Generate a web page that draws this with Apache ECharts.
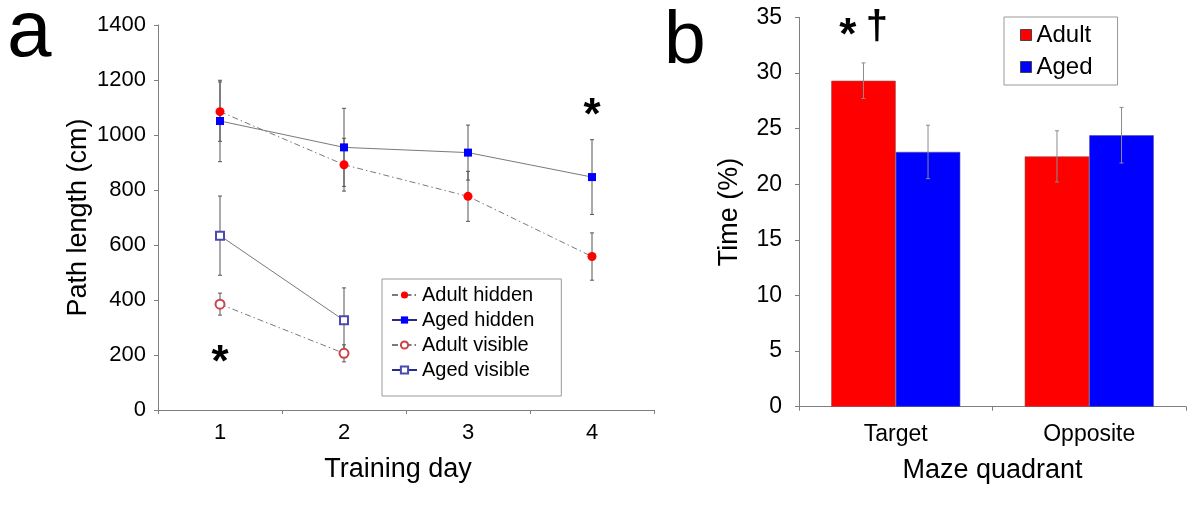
<!DOCTYPE html>
<html>
<head>
<meta charset="utf-8">
<script src="https://cdn.jsdelivr.net/npm/echarts@6/dist/echarts.min.js"></script>
<style>
html,body{margin:0;padding:0;background:#fff;}
#c{width:1200px;height:518px;}
</style>
</head>
<body>
<div id="c"></div>
<script>
// ---- Panel a data ----
const days = ['1', '2', '3', '4'];
const pathTicks = [0, 200, 400, 600, 800, 1000, 1200, 1400];
const adultHidden = [1085, 892, 777, 558];
const adultHiddenErr = [108, 96, 91, 86];
const agedHidden = [1051, 955, 936, 847];
const agedHiddenErr = [148, 142, 100, 136];
const adultVisible = [385, 206];
const adultVisibleErr = [40, 31];
const agedVisible = [634, 326];
const agedVisibleErr = [144, 118];
const starsA = [[0, 200], [3, 1100]];

// ---- Panel b data ----
const quadrants = ['Target', 'Opposite'];
const timeTicks = [0, 5, 10, 15, 20, 25, 30, 35];
const adultTime = [29.3, 22.5];
const adultTimeErr = [1.6, 2.3];
const agedTime = [22.9, 24.4];
const agedTimeErr = [2.4, 2.5];
const marksB = [[0, 34]];

const FONT = 'Liberation Sans, Arial, sans-serif';
const AXIS_GRAY = '#7f7f7f';
const LINE_GRAY = '#7a7a7a';

function errData(vals, errs) {
  return vals.map((v, i) => [i, v, errs[i]]);
}

function lineErrRender(params, api) {
  const x = api.value(0), v = api.value(1), e = api.value(2);
  const top = api.coord([x, v + e]);
  const bot = api.coord([x, v - e]);
  const c = 2;
  const st = {stroke: '#555', lineWidth: 1};
  return {type: 'group', children: [
    {type: 'line', shape: {x1: top[0], y1: top[1], x2: bot[0], y2: bot[1]}, style: st},
    {type: 'line', shape: {x1: top[0] - c, y1: top[1], x2: top[0] + c, y2: top[1]}, style: st},
    {type: 'line', shape: {x1: bot[0] - c, y1: bot[1], x2: bot[0] + c, y2: bot[1]}, style: st}
  ]};
}

function barErrRender(side) {
  return function (params, api) {
    const x = api.value(0), v = api.value(1), e = api.value(2);
    const band = api.size([1, 0])[0];
    const bw = band * (1 - 0.333) / 2;
    const off = side * bw / 2;
    const top = api.coord([x, v + e]);
    const bot = api.coord([x, v - e]);
    const px = top[0] + off;
    const c = 2;
    const st = {stroke: '#8c8c8c', lineWidth: 1};
    return {type: 'group', children: [
      {type: 'line', shape: {x1: px, y1: top[1], x2: px, y2: bot[1]}, style: st},
      {type: 'line', shape: {x1: px - c, y1: top[1], x2: px + c, y2: top[1]}, style: st},
      {type: 'line', shape: {x1: px - c, y1: bot[1], x2: px + c, y2: bot[1]}, style: st}
    ]};
  };
}

// text annotations drawn at data coordinates through the axes
function textMarkRender(txt, font, dx, dy) {
  return function (params, api) {
    const p = api.coord([api.value(0), api.value(1)]);
    return {
      type: 'text',
      x: p[0] + dx, y: p[1] + dy,
      style: {text: txt, font: font + ' ' + FONT, fill: '#000', align: 'center', verticalAlign: 'middle'}
    };
  };
}

const chart = echarts.init(document.getElementById('c'), null, {renderer: 'canvas'});

const dashDot = [6, 3, 1.5, 3];

const option = {
  animation: false,
  backgroundColor: '#ffffff',
  textStyle: {fontFamily: FONT, color: '#000'},
  graphic: [
    {type: 'text', left: 7, top: -6, style: {text: 'a', font: '80px ' + FONT, fill: '#000'}},
    {type: 'text', left: 664, top: 5, style: {text: 'b', font: '75px ' + FONT, fill: '#000'}}
  ],
  grid: [
    {left: 158, top: 25, width: 496, height: 385},
    {left: 799, top: 17.3, width: 387, height: 389.4}
  ],
  legend: [
    {
      orient: 'vertical', left: 382, top: 279,
      data: [
        {name: 'Adult hidden'},
        {name: 'Aged hidden', lineStyle: {color: '#2a2a8a'}},
        {name: 'Adult visible'},
        {name: 'Aged visible', lineStyle: {color: '#2a2a8a'}}
      ],
      backgroundColor: '#fff', borderColor: '#999', borderWidth: 1,
      padding: [6, 27, 16, 9], itemGap: 5, itemWidth: 25, itemHeight: 9,
      textStyle: {fontSize: 20, fontFamily: FONT, color: '#000', lineHeight: 20}
    },
    {
      orient: 'vertical', left: 1004, top: 17,
      data: ['Adult', 'Aged'],
      icon: 'rect',
      backgroundColor: '#fff', borderColor: '#999', borderWidth: 1,
      padding: [6, 25, 6, 16], itemGap: 8, itemWidth: 11, itemHeight: 11,
      itemStyle: {borderColor: '#444', borderWidth: 1},
      textStyle: {fontSize: 24, fontFamily: FONT, color: '#000', lineHeight: 24}
    }
  ],
  xAxis: [
    {
      type: 'category', gridIndex: 0, data: days, boundaryGap: true,
      axisLine: {lineStyle: {color: AXIS_GRAY, width: 1}},
      axisTick: {show: true, inside: false, length: 4, alignWithLabel: false, lineStyle: {color: AXIS_GRAY}},
      axisLabel: {fontSize: 22, color: '#000', margin: 12, fontFamily: FONT},
      splitLine: {show: false},
      name: 'Training day', nameLocation: 'middle', nameGap: 46,
      nameTextStyle: {fontSize: 27, color: '#000', fontFamily: FONT, padding: [0, 16, 0, 0]}
    },
    {
      type: 'category', gridIndex: 1, data: quadrants, boundaryGap: true,
      axisLine: {lineStyle: {color: AXIS_GRAY, width: 1}},
      axisTick: {show: true, inside: false, length: 4, lineStyle: {color: AXIS_GRAY}},
      axisLabel: {fontSize: 23, color: '#000', margin: 16, fontFamily: FONT},
      splitLine: {show: false},
      name: 'Maze quadrant', nameLocation: 'middle', nameGap: 50,
      nameTextStyle: {fontSize: 27, color: '#000', fontFamily: FONT}
    }
  ],
  yAxis: [
    {
      type: 'value', gridIndex: 0, min: pathTicks[0], max: pathTicks[pathTicks.length - 1],
      interval: pathTicks[1] - pathTicks[0],
      axisLine: {show: true, lineStyle: {color: AXIS_GRAY, width: 1}},
      axisTick: {show: true, inside: false, length: 4, lineStyle: {color: AXIS_GRAY}},
      axisLabel: {fontSize: 22, color: '#000', margin: 12, fontFamily: FONT, formatter: v => String(v)},
      splitLine: {show: false},
      name: 'Path length (cm)', nameLocation: 'middle', nameGap: 66,
      nameTextStyle: {fontSize: 27, color: '#000', fontFamily: FONT}
    },
    {
      type: 'value', gridIndex: 1, min: timeTicks[0], max: timeTicks[timeTicks.length - 1],
      interval: timeTicks[1] - timeTicks[0],
      axisLine: {show: true, lineStyle: {color: AXIS_GRAY, width: 1}},
      axisTick: {show: true, inside: false, length: 4, lineStyle: {color: AXIS_GRAY}},
      axisLabel: {fontSize: 23, color: '#000', margin: 17, fontFamily: FONT},
      splitLine: {show: false},
      name: 'Time (%)', nameLocation: 'middle', nameGap: 56,
      nameTextStyle: {fontSize: 27, color: '#000', fontFamily: FONT}
    }
  ],
  series: [
    // error bars panel a
    {type: 'custom', xAxisIndex: 0, yAxisIndex: 0, data: errData(adultHidden, adultHiddenErr), renderItem: lineErrRender, z: 1, silent: true},
    {type: 'custom', xAxisIndex: 0, yAxisIndex: 0, data: errData(agedHidden, agedHiddenErr), renderItem: lineErrRender, z: 1, silent: true},
    {type: 'custom', xAxisIndex: 0, yAxisIndex: 0, data: errData(adultVisible, adultVisibleErr), renderItem: lineErrRender, z: 1, silent: true},
    {type: 'custom', xAxisIndex: 0, yAxisIndex: 0, data: errData(agedVisible, agedVisibleErr), renderItem: lineErrRender, z: 1, silent: true},
    // lines panel a
    {
      name: 'Adult hidden', type: 'line', xAxisIndex: 0, yAxisIndex: 0, data: adultHidden,
      symbol: 'circle', symbolSize: 9, z: 3,
      itemStyle: {color: '#ff0000'},
      lineStyle: {color: LINE_GRAY, width: 1, type: dashDot}
    },
    {
      name: 'Aged hidden', type: 'line', xAxisIndex: 0, yAxisIndex: 0, data: agedHidden,
      symbol: 'rect', symbolSize: 8, z: 3,
      itemStyle: {color: '#0000ff'},
      lineStyle: {color: LINE_GRAY, width: 1, type: 'solid'}
    },
    {
      name: 'Adult visible', type: 'line', xAxisIndex: 0, yAxisIndex: 0, data: adultVisible,
      symbol: 'emptyCircle', symbolSize: 9, z: 3,
      itemStyle: {color: '#cc4444', borderWidth: 1},
      lineStyle: {color: LINE_GRAY, width: 1, type: dashDot}
    },
    {
      name: 'Aged visible', type: 'line', xAxisIndex: 0, yAxisIndex: 0, data: agedVisible,
      symbol: 'emptyRect', symbolSize: 8, z: 3,
      itemStyle: {color: '#4a4ab0', borderWidth: 1},
      lineStyle: {color: LINE_GRAY, width: 1, type: 'solid'}
    },
    // asterisks panel a
    {type: 'custom', xAxisIndex: 0, yAxisIndex: 0, data: starsA, renderItem: textMarkRender('*', 'bold 44px', 0, 9), z: 6, silent: true},
    // bars panel b
    {
      name: 'Adult', type: 'bar', xAxisIndex: 1, yAxisIndex: 1, data: adultTime,
      barGap: '0%', barCategoryGap: '33.3%',
      itemStyle: {color: '#ff0000', borderColor: '#9a5050', borderWidth: 0.6}
    },
    {
      name: 'Aged', type: 'bar', xAxisIndex: 1, yAxisIndex: 1, data: agedTime,
      barGap: '0%', barCategoryGap: '33.3%',
      itemStyle: {color: '#0000ff', borderColor: '#50509a', borderWidth: 0.6}
    },
    {type: 'custom', xAxisIndex: 1, yAxisIndex: 1, data: errData(adultTime, adultTimeErr), renderItem: barErrRender(-1), z: 5, silent: true},
    {type: 'custom', xAxisIndex: 1, yAxisIndex: 1, data: errData(agedTime, agedTimeErr), renderItem: barErrRender(1), z: 5, silent: true},
    // marks panel b
    {type: 'custom', xAxisIndex: 1, yAxisIndex: 1, data: marksB, renderItem: textMarkRender('*', 'bold 44px', -48, 8), z: 6, silent: true},
    {type: 'custom', xAxisIndex: 1, yAxisIndex: 1, data: marksB, renderItem: textMarkRender('\u2020', 'bold 40px', -19, 0), z: 6, silent: true}
  ]
};
chart.setOption(option);
</script>
</body>
</html>
